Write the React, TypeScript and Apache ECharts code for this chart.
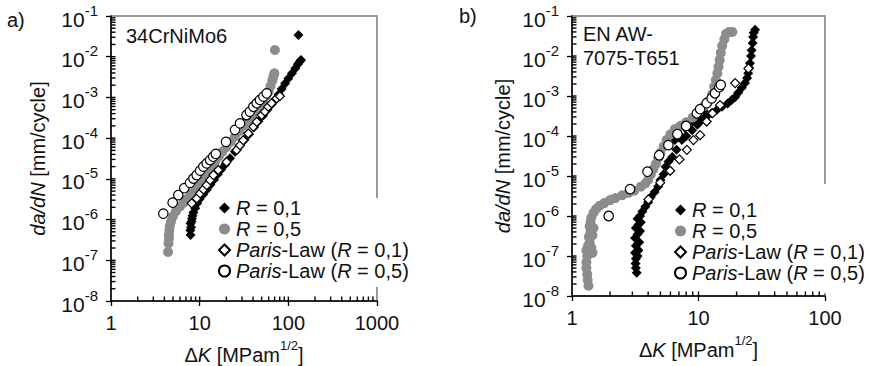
import React, { useEffect, useRef } from 'react';
import * as echarts from 'echarts';

const FONT = "'Liberation Sans', Arial, Helvetica, sans-serif";
const TXT = '#111111';
const BLACK = '#000000';
const GRAY = '#8c8c8c';

// ---------- Panel a) 34CrNiMo6 ----------
const leftR01: [number, number][] = [
  [7.9, 4.2e-7], [7.85, 5.5e-7], [8.0, 6.5e-7], [7.9, 8e-7], [8.1, 9e-7], [8.2, 1.05e-6],
  [8.3, 1.25e-6], [8.5, 1.5e-6], [8.9, 1.9e-6], [9.4, 2.5e-6], [10, 3.2e-6], [11, 4.2e-6],
  [12, 5.4e-6], [13.2, 7.2e-6], [14.5, 9.5e-6], [16, 1.3e-5], [17.5, 1.7e-5], [19.5, 2.3e-5],
  [22, 3.2e-5], [25, 4.6e-5], [28, 6.2e-5], [32, 9e-5], [36, 1.25e-4], [41, 1.85e-4],
  [46, 2.6e-4], [52, 3.6e-4], [58, 5e-4], [65, 6.8e-4], [72, 9e-4], [78, 1.2e-3],
  [84, 1.6e-3], [92, 2.2e-3], [100, 2.9e-3], [110, 3.9e-3], [120, 5.2e-3], [128, 6.5e-3],
  [135, 7.6e-3], [139, 8.3e-3], [130, 0.034],
];
const leftR05: [number, number][] = [
  [4.4, 1.6e-7], [4.45, 2.6e-7], [4.5, 3.4e-7], [4.5, 4.2e-7], [4.55, 5.5e-7], [4.6, 7e-7],
  [4.75, 9e-7], [5, 1.2e-6], [5.4, 1.6e-6], [6, 2.1e-6], [6.6, 2.6e-6], [7.2, 3.2e-6],
  [8, 4.3e-6], [9, 6e-6], [10, 8.3e-6], [11, 1.1e-5], [12.2, 1.5e-5], [13.5, 2e-5],
  [15, 2.7e-5], [16.5, 3.6e-5], [18, 4.6e-5], [20, 6e-5], [22.5, 8.2e-5], [25, 1.1e-4],
  [28, 1.5e-4], [31, 2e-4], [35, 2.7e-4], [39, 3.6e-4], [43, 4.6e-4], [47, 6e-4],
  [52, 8.5e-4], [56, 1.1e-3], [60, 1.4e-3], [63, 1.9e-3], [66, 2.6e-3], [68, 3.3e-3],
  [69.5, 3.9e-3], [70.6, 0.0146],
];
const leftP01: [number, number][] = [
  [8.13, 2.5e-6], [9.25, 3.3e-6], [10.1, 4.4e-6], [11.0, 5.5e-6], [12.0, 7.0e-6], [13.1, 9.3e-6],
  [14.3, 1.24e-5], [16.2, 1.65e-5], [20.1, 2.6e-5], [26.1, 5.1e-5], [28.5, 6.7e-5], [31, 8.9e-5],
  [35.3, 1.3e-4], [40.3, 1.9e-4], [44, 2.5e-4], [50, 3.7e-4], [54.4, 4.5e-4], [59.3, 5.9e-4],
  [64.7, 7.2e-4], [73.7, 9.5e-4], [80.3, 1.07e-3],
];
const leftP05: [number, number][] = [
  [3.89, 1.4e-6], [4.96, 2.6e-6], [5.74, 4.0e-6], [6.7, 5.9e-6], [7.78, 8.0e-6], [8.5, 1.02e-5],
  [9.25, 1.24e-5], [10.1, 1.6e-5], [11.0, 2.0e-5], [12.0, 2.4e-5], [13.1, 2.9e-5], [14.2, 3.5e-5],
  [15.2, 4.1e-5], [19.8, 8.1e-5], [25, 1.6e-4], [28.5, 2.3e-4], [33.7, 3.7e-4], [36.8, 4.5e-4],
  [40.3, 5.9e-4], [44, 7.2e-4], [47.9, 8.7e-4], [52.3, 1.05e-3], [57, 1.26e-3],
];

// ---------- Panel b) EN AW-7075-T651 ----------
const rightR01: [number, number][] = [
  [3.25, 3.8e-8], [3.2, 5e-8], [3.18, 6.5e-8], [3.2, 8.5e-8], [3.3, 1e-7], [3.15, 1.2e-7],
  [3.35, 1.4e-7], [3.2, 1.8e-7], [3.4, 2.2e-7], [3.15, 2.8e-7], [3.3, 3.5e-7], [3.45, 4.2e-7],
  [3.2, 5e-7], [3.35, 6e-7], [3.5, 7e-7], [3.3, 8.5e-7], [3.45, 1e-6], [3.6, 1.3e-6],
  [3.8, 1.7e-6], [4, 2.2e-6], [4.2, 3e-6], [4.5, 4e-6], [4.8, 5.5e-6], [5, 7.9e-6],
  [5.3, 1.1e-5], [5.5, 1.7e-5], [5.8, 2.3e-5], [6.2, 3e-5], [6.7, 4.5e-5], [7.4, 7.9e-5],
  [6.5, 8e-5], [7, 1.1e-4], [7.8, 1.6e-4], [9, 2.3e-4], [10, 3.2e-4], [11, 4.2e-4],
  [8, 1e-4], [8.9, 1.4e-4], [9.8, 1.9e-4], [10.6, 2.5e-4], [11.5, 3e-4], [12.7, 3.7e-4],
  [14, 4.5e-4], [15.3, 5.4e-4], [17, 6.5e-4], [18.3, 7.9e-4], [19.5, 9.5e-4], [20.6, 1.2e-3],
  [22, 1.6e-3], [23.3, 2.1e-3], [24.2, 2.8e-3], [24.7, 3.7e-3], [25.2, 5e-3], [25.5, 6.6e-3],
  [26, 1e-2], [26.3, 1.4e-2], [26.8, 2.1e-2], [27, 3e-2], [27.3, 3.8e-2], [28, 4.5e-2],
];
const rightR05: [number, number][] = [
  [1.35, 1.8e-8], [1.33, 2.5e-8], [1.32, 3.5e-8], [1.3, 5e-8], [1.3, 7e-8], [1.32, 1e-7],
  [1.3, 1.4e-7], [1.34, 1.8e-7], [1.38, 2.2e-7], [1.42, 1.6e-7], [1.45, 1.2e-7], [1.36, 3e-7],
  [1.4, 4e-7], [1.45, 3.3e-7], [1.38, 5.5e-7], [1.48, 5e-7], [1.4, 7e-7], [1.42, 9e-7],
  [1.48, 1.2e-6], [1.55, 1.5e-6], [1.65, 1.8e-6], [1.8, 2.1e-6], [2, 2.5e-6], [2.2, 2.8e-6],
  [2.5, 3.3e-6], [2.8, 3.8e-6], [3.1, 4.3e-6], [3.5, 5.4e-6], [3.8, 6.5e-6], [4.0, 8e-6],
  [4.2, 1.1e-5], [4.4, 1.5e-5], [4.6, 2e-5], [4.8, 2.8e-5], [5, 3.8e-5], [5.3, 5.5e-5],
  [5.6, 8e-5], [6, 1.1e-4], [6.5, 1.5e-4], [7.2, 1.8e-4], [8, 2.2e-4], [9, 2.9e-4],
  [10, 4e-4], [11, 5.5e-4], [12, 7.5e-4], [12.8, 1.1e-3], [13.3, 1.7e-3], [13.7, 2.5e-3],
  [14.1, 3.7e-3], [14.4, 5.4e-3], [14.7, 8e-3], [15, 1.2e-2], [15.4, 1.8e-2], [16, 2.6e-2],
  [16.5, 3.6e-2], [17.5, 4e-2], [18.5, 4e-2],
];
const rightP01: [number, number][] = [
  [4.02, 2.6e-6], [4.98, 6.8e-6], [5.97, 1.35e-5], [7.07, 2.6e-5], [8.09, 4.5e-5], [9.12, 7.9e-5],
  [10.3, 1.05e-4], [11.6, 2.3e-4], [12.9, 3.7e-4], [14.8, 5.9e-4], [19.5, 2.1e-3], [24.8, 4.9e-3],
];
const rightP05: [number, number][] = [
  [1.95, 1.0e-6], [2.88, 4.7e-6], [3.95, 1.28e-5], [4.89, 3.3e-5], [5.78, 5.9e-5], [6.81, 1.12e-4],
  [7.98, 1.78e-4], [9.7, 3.7e-4], [10.3, 4.7e-4], [11.6, 6.6e-4], [12.7, 8.7e-4], [13.5, 1.17e-3],
  [14.6, 1.66e-3], [15.0, 1.9e-3],
];

const xMaxLeft = 1000;
const xMaxRight = 100;
const yMin = 1e-8;
const yMax = 1e-1;
const minorMantissas = [1, 2, 3, 4, 5, 6, 7, 8, 9];

const legendNames = ['R01', 'R05', 'P01', 'P05'];
const legendLabels: Record<string, string> = {
  R01: '{i|R} = 0,1',
  R05: '{i|R} = 0,5',
  P01: '{i|Paris}-Law ({i|R} = 0,1)',
  P05: '{i|Paris}-Law ({i|R} = 0,5)',
};

function decadeTicks(lo: number, hi: number): number[] {
  const out: number[] = [];
  for (let e = Math.round(Math.log10(lo)); Math.pow(10, e) < hi; e++) {
    for (const m of minorMantissas) {
      const v = Number((m * Math.pow(10, e)).toPrecision(6));
      if (v > lo && v < hi) out.push(v);
    }
  }
  return out;
}

function seriesFor(idx: number, r01: [number, number][], r05: [number, number][], p01: [number, number][], p05: [number, number][]) {
  return [
    { name: 'R01', type: 'scatter', xAxisIndex: idx, yAxisIndex: idx, data: r01, symbol: 'diamond', symbolSize: 10, itemStyle: { color: BLACK, opacity: 1 }, z: 2 },
    { name: 'R05', type: 'scatter', xAxisIndex: idx, yAxisIndex: idx, data: r05, symbol: 'circle', symbolSize: 10, itemStyle: { color: GRAY, opacity: 1 }, z: 3 },
    { name: 'P01', type: 'scatter', xAxisIndex: idx, yAxisIndex: idx, data: p01, symbol: 'diamond', symbolSize: 9, itemStyle: { color: '#ffffff', borderColor: BLACK, borderWidth: 1.2, opacity: 1 }, z: 4 },
    { name: 'P05', type: 'scatter', xAxisIndex: idx, yAxisIndex: idx, data: p05, symbol: 'circle', symbolSize: 9.5, itemStyle: { color: '#ffffff', borderColor: BLACK, borderWidth: 1.2, opacity: 1 }, z: 5 },
  ];
}

const supRich = {
  b: { fontSize: 21, fontFamily: FONT, color: TXT, lineHeight: 27, verticalAlign: 'bottom' },
  s: { fontSize: 15, fontFamily: FONT, color: TXT, lineHeight: 15, verticalAlign: 'top' },
};

function xAxisFor(idx: number, max: number) {
  return {
    type: 'log', logBase: 10, gridIndex: idx, min: 1, max, splitNumber: idx === 0 ? 3 : 2, position: 'bottom',
    axisLine: { show: true, onZero: false, lineStyle: { color: BLACK, width: 1.5 } },
    axisTick: { show: true, length: 5, lineStyle: { color: BLACK, width: 1.3 } },
    minorTick: { show: false },
    splitLine: { show: false },
    axisLabel: { fontSize: 20, fontFamily: FONT, color: TXT, margin: 12, formatter: (v: number) => String(Math.round(v)) },
    name: '{n|Δ}{i|K}{n| [MPam}{s|1/2}{n|]}',
    nameLocation: 'middle',
    nameGap: 38,
    nameTextStyle: {
      rich: {
        n: { fontSize: 20, fontFamily: FONT, color: TXT, lineHeight: 26, verticalAlign: 'bottom' },
        i: { fontSize: 20, fontFamily: FONT, color: TXT, fontStyle: 'italic', lineHeight: 26, verticalAlign: 'bottom' },
        s: { fontSize: 13, fontFamily: FONT, color: TXT, lineHeight: 13, verticalAlign: 'top' },
      },
    },
  };
}

function yAxisFor(idx: number, gap: number) {
  return {
    type: 'log', logBase: 10, gridIndex: idx, min: yMin, max: yMax, splitNumber: 7, position: 'left',
    axisLine: { show: true, onZero: false, lineStyle: { color: BLACK, width: 1.5 } },
    axisTick: { show: true, length: 5, lineStyle: { color: BLACK, width: 1.3 } },
    minorTick: { show: false },
    splitLine: { show: false },
    axisLabel: {
      margin: 13,
      formatter: (v: number) => `{b|10}{s|${Math.round(Math.log10(v))}}`,
      rich: supRich,
    },
    name: '{i|da/dN} [mm/cycle]',
    nameLocation: 'middle',
    nameRotate: 90,
    nameGap: gap,
    nameTextStyle: {
      fontSize: 20, fontFamily: FONT, color: TXT,
      rich: { i: { fontSize: 20, fontFamily: FONT, color: TXT, fontStyle: 'italic' } },
    },
  };
}

function legendFor(left: number, top: number, padding: number[]) {
  return {
    show: true, orient: 'vertical', left, top, padding, itemGap: 1,
    itemWidth: 11, itemHeight: 11, selectedMode: false, backgroundColor: '#ffffff',
    data: legendNames,
    formatter: (name: string) => legendLabels[name],
    textStyle: {
      fontSize: 20, fontFamily: FONT, color: TXT, lineHeight: 20, padding: [0, 0, 0, 1],
      rich: { i: { fontSize: 20, fontFamily: FONT, color: TXT, fontStyle: 'italic', lineHeight: 20 } },
    },
    z: 10,
  };
}

const texts = [
  { type: 'text', left: 7, top: 10, style: { text: 'a)', font: `20px ${FONT}`, fill: TXT } },
  { type: 'text', left: 459, top: 6, style: { text: 'b)', font: `20px ${FONT}`, fill: TXT } },
  { type: 'text', left: 126, top: 26, style: { text: '34CrNiMo6', font: `20px ${FONT}`, fill: TXT } },
  { type: 'text', left: 583, top: 24, style: { text: 'EN AW-', font: `20px ${FONT}`, fill: TXT } },
  { type: 'text', left: 583, top: 48, style: { text: '7075-T651', font: `20px ${FONT}`, fill: TXT } },
];

export default function App() {
  const ref = useRef<HTMLDivElement>(null);
  useEffect(() => {
    if (!ref.current) return;
    const chart = echarts.init(ref.current, null, { renderer: 'svg' });
    const option: any = {
      animation: false,
      backgroundColor: '#ffffff',
      textStyle: { fontFamily: FONT },
      grid: [
        { left: 111, top: 16, width: 266, height: 285, show: true, borderColor: '#7a7a7a', borderWidth: 1.5, backgroundColor: 'transparent', containLabel: false, outerBoundsMode: 'none' },
        { left: 572, top: 16, width: 253, height: 280, show: true, borderColor: '#7a7a7a', borderWidth: 1.5, backgroundColor: 'transparent', containLabel: false, outerBoundsMode: 'none' },
      ],
      xAxis: [xAxisFor(0, xMaxLeft), xAxisFor(1, xMaxRight)],
      yAxis: [yAxisFor(0, 63), yAxisFor(1, 59)],
      legend: [legendFor(218, 198, [0, 0, 6, 0]), legendFor(674, 184, [16, 0, 10, 0])],
      series: [
        ...seriesFor(0, leftR01, leftR05, leftP01, leftP05),
        ...seriesFor(1, rightR01, rightR05, rightP01, rightP05),
      ],
      graphic: texts,
    };
    chart.setOption(option);

    // inside log (minor) ticks, positioned through the axes' own scales
    const ticks: any[] = [];
    const addTicks = (gi: number, xMax: number) => {
      for (const v of decadeTicks(1, xMax)) {
        const p = chart.convertToPixel({ xAxisIndex: gi, yAxisIndex: gi } as any, [v, yMin]) as any;
        if (!p || !isFinite(p[0]) || !isFinite(p[1])) continue;
        ticks.push({ type: 'line', silent: true, z: 50, shape: { x1: p[0], y1: p[1], x2: p[0], y2: p[1] - 4.5 }, style: { stroke: BLACK, lineWidth: 1.4 } });
      }
      for (const v of decadeTicks(yMin, yMax)) {
        const p = chart.convertToPixel({ xAxisIndex: gi, yAxisIndex: gi } as any, [1, v]) as any;
        if (!p || !isFinite(p[0]) || !isFinite(p[1])) continue;
        ticks.push({ type: 'line', silent: true, z: 50, shape: { x1: p[0], y1: p[1], x2: p[0] + 4.5, y2: p[1] }, style: { stroke: BLACK, lineWidth: 1.4 } });
      }
    };
    addTicks(0, xMaxLeft);
    addTicks(1, xMaxRight);
    chart.setOption({ graphic: [...texts, ...ticks] });

    return () => chart.dispose();
  }, []);
  return <div ref={ref} style={{ position: 'fixed', left: 0, top: 0, width: 870, height: 366, background: '#fff' }} />;
}
